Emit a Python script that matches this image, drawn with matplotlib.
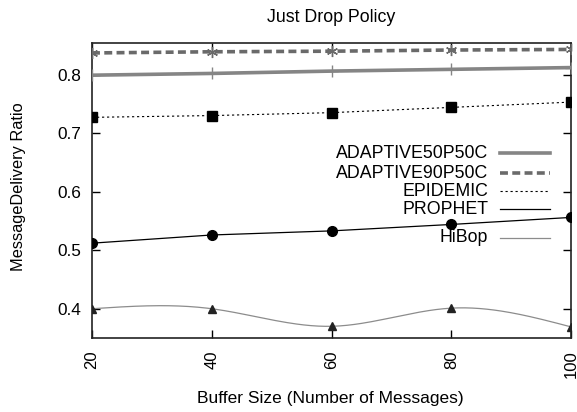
import numpy as np
import matplotlib as mpl
mpl.use('Agg')
import matplotlib.pyplot as plt

plt.rcParams['font.family'] = ['Liberation Sans', 'DejaVu Sans']

buffer_size = [20, 40, 60, 80, 100]
adaptive50 = [0.799, 0.802, 0.806, 0.809, 0.812]
adaptive90 = [0.837, 0.839, 0.840, 0.842, 0.843]
epidemic   = [0.727, 0.730, 0.735, 0.744, 0.753]
prophet    = [0.512, 0.526, 0.533, 0.544, 0.556]
hibop      = [0.400, 0.400, 0.370, 0.401, 0.369]


def natural_spline(x, y, n=200):
    # gnuplot-like "smooth csplines"
    x = np.asarray(x, float)
    y = np.asarray(y, float)
    k = len(x)
    h = np.diff(x)
    A = np.zeros((k, k))
    b = np.zeros(k)
    A[0, 0] = A[-1, -1] = 1
    for i in range(1, k - 1):
        A[i, i - 1] = h[i - 1]
        A[i, i] = 2 * (h[i - 1] + h[i])
        A[i, i + 1] = h[i]
        b[i] = 6 * ((y[i + 1] - y[i]) / h[i] - (y[i] - y[i - 1]) / h[i - 1])
    M = np.linalg.solve(A, b)
    xs = np.linspace(x[0], x[-1], n)
    idx = np.clip(np.searchsorted(x, xs) - 1, 0, k - 2)
    x0, x1 = x[idx], x[idx + 1]
    hh = x1 - x0
    t0, t1 = x1 - xs, xs - x0
    ys = (M[idx] * t0**3 + M[idx + 1] * t1**3) / (6 * hh) \
        + (y[idx] / hh - M[idx] * hh / 6) * t0 \
        + (y[idx + 1] / hh - M[idx + 1] * hh / 6) * t1
    return xs, ys


fig = plt.figure(figsize=(5.77, 4.12), dpi=100)
ax = fig.add_axes([92 / 577, 1 - 338 / 412, (571 - 92) / 577, (338 - 43) / 412])

c50 = '#858585'
c90 = '#6a6a6a'
chb = '#8c8c8c'

ax.plot(buffer_size, adaptive50, color=c50, lw=2.6, marker='+', ms=8, mew=1, zorder=3)
ax.plot(buffer_size, adaptive90, color=c90, lw=2.6, dashes=(2.2, 1.2),
        marker=(6, 2, 0), ms=8, mew=1, zorder=3)
ax.plot(buffer_size, epidemic, color='k', lw=0.8, dashes=(2, 2.5),
        marker='s', ms=7, zorder=3)
ax.plot(buffer_size, prophet, color='k', lw=0.9, marker='o', ms=7, zorder=3)
xs, ys = natural_spline(buffer_size, hibop)
ax.plot(xs, ys, color=chb, lw=0.9, zorder=3)
ax.plot(buffer_size, hibop, ls='none', marker='^', ms=6, color='#222222', zorder=3)

# legend, gnuplot style (text right-aligned, sample line to the right)
entries = [
    ('ADAPTIVE50P50C', dict(color=c50, lw=2.6), 0.627),
    ('ADAPTIVE90P50C', dict(color=c90, lw=2.6, dashes=(2.2, 1.2)), 0.559),
    ('EPIDEMIC', dict(color='k', lw=0.8, dashes=(2, 2.5)), 0.498),
    ('PROPHET', dict(color='k', lw=0.9), 0.437),
    ('HiBop', dict(color=chb, lw=0.9), 0.339),
]
for label, style, yy in entries:
    ax.text(0.827, yy, label, transform=ax.transAxes, ha='right', va='center', fontsize=12.8)
    ax.plot([0.852, 0.956], [yy, yy], transform=ax.transAxes, **style)

ax.set_xlim(20, 100)
ax.set_ylim(0.35, 0.854)
ax.set_xticks(buffer_size)
ax.set_xticklabels([str(v) for v in buffer_size], rotation=90, fontsize=12)
ax.set_yticks([0.4, 0.5, 0.6, 0.7, 0.8])
ax.set_yticklabels(['0.4', '0.5', '0.6', '0.7', '0.8'], fontsize=12.4)
ax.tick_params(direction='in', top=True, right=True, length=6, width=1)
ax.tick_params(axis='y', pad=8)
ax.tick_params(axis='x', pad=9)
for s in ax.spines.values():
    s.set_linewidth(1.2)
    s.set_color('#222222')

fig.text(331 / 577, 1 - 17 / 412, 'Just Drop Policy', ha='center', va='center', fontsize=12.8)
fig.text(330 / 577, 1 - 398 / 412, 'Buffer Size (Number of Messages)', ha='center', va='center', fontsize=12.5)
fig.text(19 / 577, 1 - 187 / 412, 'MessageDelivery Ratio', ha='center', va='center',
         rotation=90, fontsize=11.8)

plt.savefig('out.png', dpi=100)
plt.close()
